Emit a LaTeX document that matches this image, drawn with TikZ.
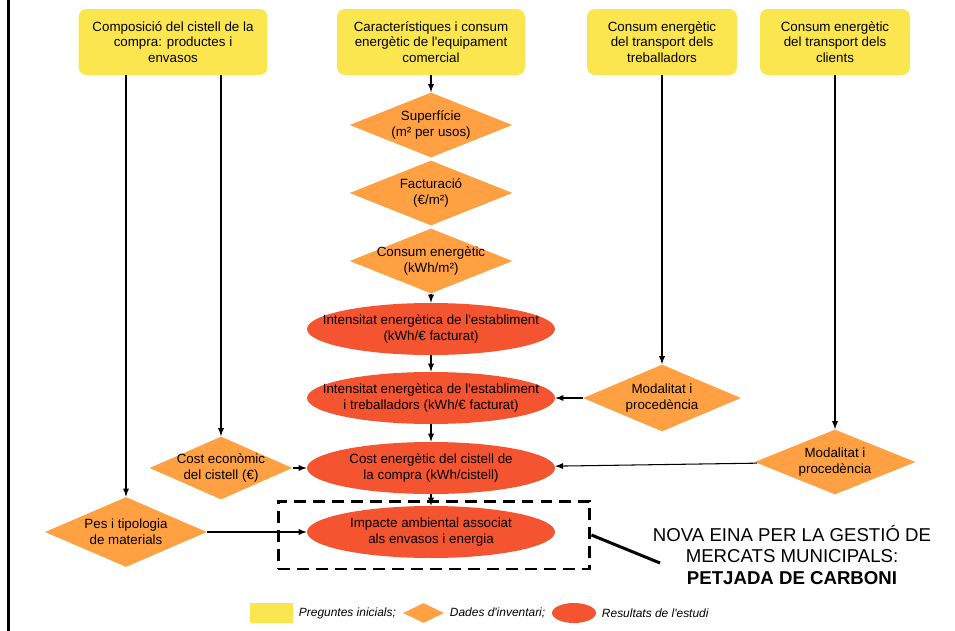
\documentclass[tikz,border=0pt]{standalone}
\usepackage{fontspec}
\setmainfont{Liberation Sans}
\usetikzlibrary{shapes.geometric,positioning}
\definecolor{groc}{HTML}{FCE64F}
\definecolor{taronja}{HTML}{FFA043}
\definecolor{vermell}{HTML}{F4542F}
\begin{document}
\begin{tikzpicture}[
                x=0.02cm, y=-0.02cm,
                every node/.style={font=\fontsize{7.6}{9}\selectfont, align=center, inner sep=0pt},
                pregunta/.style={rectangle, rounded corners=4.5pt, fill=groc, minimum height=1.32cm},
                dada/.style={diamond, fill=taronja, inner xsep=-12pt, shape aspect=2.5},
                resultat/.style={ellipse, fill=vermell, inner xsep=-14pt, minimum width=4.96cm, minimum height=1.04cm},
                fletxa/.style={->, >=latex, line width=0.6pt}
            ]
            \useasboundingbox (0,0) rectangle (955,631);
            \draw[line width=1.4pt] (8.5,0) -- (8.5,631);

            % Preguntes inicials
            \node[pregunta, minimum width=3.78cm] (q1) at (173,42) {Composició del cistell de la\\compra: productes i\\envasos};
            \node[pregunta, minimum width=3.76cm] (q2) at (431,42) {Característiques i consum\\energètic de l\textquotesingle equipament\\comercial};
            \node[pregunta, minimum width=3cm] (q3) at (662,42) {Consum energètic\\del transport dels\\treballadors};
            \node[pregunta, minimum width=3cm] (q4) at (835,42) {Consum energètic\\del transport dels\\clients};

            % Dades d'inventari
            \node[dada, minimum width=3.26cm, minimum height=1.3cm] (d1) at (431,125) {Superfície\\(m² per usos)};
            \node[dada, minimum width=3.26cm, minimum height=1.3cm] (d2) at (431,193) {Facturació\\(€/m²)};
            \node[dada, minimum width=3.26cm, minimum height=1.3cm] (d3) at (431,261) {Consum energètic\\(kWh/m²)};
            \node[dada, minimum width=3.16cm, minimum height=1.34cm] (d4) at (662,398) {Modalitat i\\procedència};
            \node[dada, minimum width=3.22cm, minimum height=1.3cm] (d5) at (835,462) {Modalitat i\\procedència};
            \node[dada, minimum width=2.86cm, minimum height=1.26cm] (d6) at (221,468) {Cost econòmic\\del cistell (€)};
            \node[dada, minimum width=3.24cm, minimum height=1.4cm] (d7) at (126,532) {Pes i tipologia\\de materials};

            % Resultats de l'estudi
            \node[resultat] (r1) at (431,329) {Intensitat energètica de l\textquotesingle establiment\\(kWh/€ facturat)};
            \node[resultat] (r2) at (431,398) {Intensitat energètica de l\textquotesingle establiment\\i treballadors (kWh/€ facturat)};
            \node[resultat] (r3) at (431,468) {Cost energètic del cistell de\\la compra (kWh/cistell)};
            \node[resultat] (r4) at (431,532) {Impacte ambiental associat\\als envasos i energia};

            \draw[fletxa] (q2) -- (d1);
            \draw[fletxa] (d3) -- (r1);
            \draw[fletxa] (r1) -- (r2);
            \draw[fletxa] (r2) -- (r3);
            \draw[fletxa] (r3) -- (r4);
            \draw[fletxa] (q1.south -| d7.north) -- (d7.north);
            \draw[fletxa] (q1.south -| d6.north) -- (d6.north);
            \draw[fletxa] (q3) -- (d4);
            \draw[fletxa] (q4) -- (d5);
            \draw[fletxa] (d4) -- (r2);
            \draw[fletxa] (d5) -- (r3);
            \draw[fletxa] (d6) -- (r3);
            \draw[fletxa] (d7) -- (r4);

            % Marc i nova eina
            \node[draw, line width=1.7pt, dash pattern=on 6.8pt off 4pt, minimum width=6.24cm, minimum height=1.36cm] (marc) at (434,535) {};
            \node[font=\fontsize{10.6}{12.5}\selectfont] (nova) at (792,555) {NOVA EINA PER LA GESTIÓ DE\\MERCATS MUNICIPALS:\\\textbf{PETJADA DE CARBONI}};
            \coordinate (punta) at (660,563);
            \draw[line width=1.7pt] (marc.east) -- (punta);

            % Llegenda
            \node[rectangle, fill=groc, minimum width=0.86cm, minimum height=0.4cm] (lq) at (271.5,613) {};
            \node[right=3pt of lq, font=\fontsize{6.8}{8}\selectfont\itshape] (tq) {Preguntes inicials;};
            \node[dada, minimum width=0.82cm, minimum height=0.4cm] (ld) at (423.5,613) {};
            \node[right=3pt of ld, font=\fontsize{6.8}{8}\selectfont\itshape] (td) {Dades d\textquotesingle inventari;};
            \node[ellipse, fill=vermell, minimum width=0.88cm, minimum height=0.4cm] (lr) at (574,613) {};
            \node[right=3pt of lr, font=\fontsize{6.8}{8}\selectfont\itshape] (tr) {Resultats de l\textquotesingle estudi};

            \end{tikzpicture}
\end{document}
